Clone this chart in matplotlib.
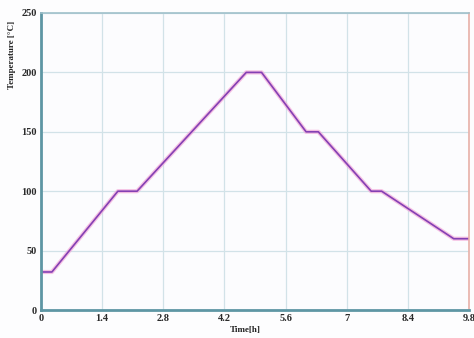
import numpy as np
import matplotlib.pyplot as plt

# time [h] and temperature [C] of the heating profile
time_h = [0, 0.25, 1.76, 2.2, 4.7, 5.05, 6.07, 6.35, 7.56, 7.8, 9.45, 9.8]
temp_c = [32, 32, 100, 100, 200, 200, 150, 150, 100, 100, 60, 60]

xticks = [0, 1.4, 2.8, 4.2, 5.6, 7, 8.4, 9.8]
xtick_labels = ['0', '1.4', '2.8', '4.2', '5.6', '7', '8.4', '9.8']
yticks = [0, 50, 100, 150, 200, 250]

plt.rcParams['font.family'] = ['Liberation Serif', 'DejaVu Serif']

fig = plt.figure(figsize=(4.74, 3.38), dpi=100)
fig.patch.set_facecolor('#fdfdfe')
ax = fig.add_axes([41/474, 1 - 310/338, (469-41)/474, (310-13)/338])
ax.set_facecolor('#fcfcfe')

ax.plot(time_h, temp_c, color='#f2a6d8', lw=3.0, alpha=0.7, solid_joinstyle='round')
ax.plot(time_h, temp_c, color='#8440b4', lw=1.2, solid_joinstyle='round')

ax.set_xlim(0, 9.8)
ax.set_ylim(0, 250)
ax.set_xticks(xticks)
ax.set_xticklabels(xtick_labels)
ax.set_yticks(yticks)
ax.grid(True, color='#d2e2e8', lw=0.9)
ax.tick_params(length=0, pad=3, labelsize=7.5)
for lab in ax.get_xticklabels() + ax.get_yticklabels():
    lab.set_fontweight('bold')
    lab.set_color('#2a2a2a')

for side in ['left', 'bottom']:
    ax.spines[side].set_color('#5e96a4')
    ax.spines[side].set_linewidth(2)
ax.spines['top'].set_color('#9fc0ca')
ax.spines['top'].set_linewidth(1.2)
ax.spines['right'].set_color('#e8b0a8')
ax.spines['right'].set_linewidth(1.2)

fig.text(245/474, 1 - 330/338, 'Time[h]', ha='center', va='center',
         fontsize=6.5, fontweight='bold', color='#222222')
fig.text(12/474, 1 - 55/338, 'Temperature [°C]', ha='center', va='center',
         rotation=90, fontsize=6.5, fontweight='bold', color='#222222')

fig.savefig('out.png', dpi=100, facecolor=fig.get_facecolor())
